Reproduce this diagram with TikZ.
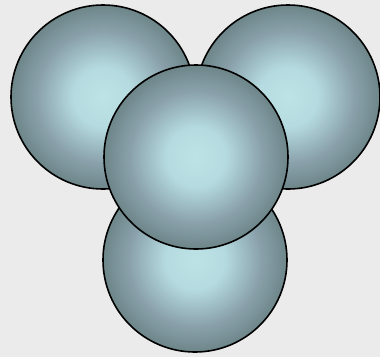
\documentclass[tikz,border=0pt]{standalone}
\usepackage{tikz}
\definecolor{cback}{HTML}{ebebeb}
\pgfdeclareradialshading{ballshade}{\pgfpoint{0bp}{0bp}}{%
  rgb(0bp)=(0.74,0.89,0.90);
  rgb(8bp)=(0.71,0.86,0.88);
  rgb(18bp)=(0.54,0.63,0.67);
  rgb(28bp)=(0.38,0.48,0.48);
  rgb(35bp)=(0.33,0.43,0.42);
  rgb(50bp)=(0.33,0.43,0.42)}

\begin{document}
\begin{tikzpicture}[x=1pt, y=-1pt, ball/.style={draw, circle, line width=1.6pt, minimum size=184pt, inner sep=0pt, shading=ballshade}]
    \fill[cback] (0,0) rectangle (380,357);
    \useasboundingbox (0,0) rectangle (380,357);
    \node[ball] (tl) at (103,97) {};
    \node[ball] (tr) at (288,97) {};
    \node[ball] (bot) at (195,260) {};
    \node[ball] (mid) at (196,157) {};
  \end{tikzpicture}
\end{document}
